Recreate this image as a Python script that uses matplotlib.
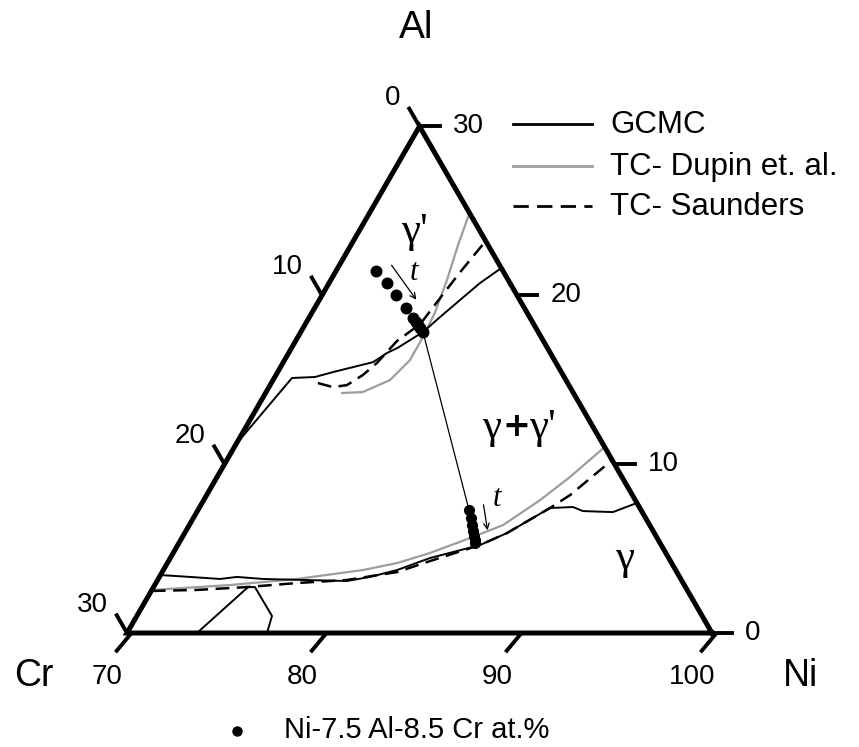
import numpy as np
import matplotlib
matplotlib.use("Agg")
import matplotlib.pyplot as plt

plt.rcParams["font.family"] = ["Liberation Sans", "DejaVu Sans"]

# ── 데이터 (Al at.%, Cr at.%) ────────────────────────────────────────────────
gcmc_up_al = [11.25, 15.10, 15.16, 15.45, 16.04, 16.58, 16.87, 17.82, 18.71, 19.72, 20.72, 21.61]
gcmc_up_cr = [18.73, 13.99, 12.78, 11.71, 9.36, 8.38, 7.71, 5.91, 4.59, 3.06, 1.54, 0.0]

gcmc_lo_al = [3.43, 3.32, 3.20, 3.32, 3.20, 3.14, 3.08, 3.32, 3.73, 4.44, 5.21, 5.92, 7.16, 7.40,
              7.46, 7.22, 7.16, 7.70]
gcmc_lo_cr = [26.54, 25.11, 23.63, 22.70, 21.43, 19.40, 17.18, 15.88, 14.28, 12.24, 9.29, 7.55,
              5.09, 4.61, 3.40, 3.01, 1.50, 0.0]

gcmc_box_al = [0.0, 2.72, 2.72, 1.01, 0.0]
gcmc_box_cr = [26.41, 22.43, 22.08, 22.06, 22.82]

dupin_up_al = [14.21, 14.27, 14.98, 16.16, 17.53, 18.95, 20.90, 22.97, 24.87]
dupin_up_cr = [11.86, 10.77, 9.02, 7.41, 6.06, 4.74, 3.14, 1.54, 0.0]

dupin_lo_al = [2.55, 2.84, 3.20, 3.73, 4.14, 4.74, 5.62, 6.39, 7.87, 9.24, 11.01]
dupin_lo_cr = [27.40, 23.30, 19.68, 16.03, 14.08, 12.09, 9.60, 7.52, 4.88, 2.66, 0.0]

saund_up_al = [14.80, 14.56, 14.68, 15.28, 15.99, 17.29, 18.29, 19.83, 21.37, 23.21]
saund_up_cr = [12.81, 12.16, 11.38, 10.26, 9.19, 7.51, 5.82, 4.03, 2.23, 0.0]

saund_lo_al = [2.49, 2.55, 2.72, 2.96, 3.14, 3.61, 4.26, 5.21, 5.92, 7.16, 7.40, 8.17, 10.24]
saund_lo_cr = [27.48, 25.14, 22.49, 19.80, 17.15, 14.34, 12.33, 9.29, 7.55, 5.09, 4.61, 3.19, 0.0]

# γ' 조성 (시간 순)
gp_al = [21.43, 20.72, 20.01, 19.24, 18.65, 18.41, 18.24, 18.06, 17.82]
gp_cr = [6.51, 6.31, 6.20, 6.07, 6.00, 5.97, 5.96, 5.94, 5.91]
# γ 조성 (시간 순)
g_al = [7.28, 6.81, 6.39, 6.04, 5.74, 5.51, 5.33]
g_cr = [8.82, 8.96, 9.11, 9.24, 9.34, 9.40, 9.49]

# 축 눈금
ni_ticks = [70, 80, 90, 100]
al_ticks = [0, 10, 20, 30]
cr_ticks = [0, 10, 20, 30]

SQ3 = np.sqrt(3) / 2


def tern(al, cr):
    """(Al, Cr) at.% -> 삼각형 평면 좌표 (Cr 꼭짓점 = 원점, Ni 꼭짓점 = (30, 0))."""
    al = np.asarray(al, dtype=float)
    cr = np.asarray(cr, dtype=float)
    return 30 - cr - al / 2, al * SQ3


W, H = 859, 747
fig = plt.figure(figsize=(W / 100, H / 100), dpi=100)
ax = fig.add_axes([0, 0, 1, 1])
PX = 19.5  # 1 at.% 당 픽셀
ax.set_xlim(-127 / PX, (W - 127) / PX)
ax.set_ylim((633 - H) / PX, 633 / PX)
ax.axis("off")


def ftext(px, py, s, **kw):
    """픽셀 위치 기준 figure 텍스트."""
    fig.text(px / W, 1 - py / H, s, **kw)


# ── 삼각형 틀 ────────────────────────────────────────────────────────────────
fx, fy = tern([0, 0, 30, 0], [0, 30, 0, 0])
ax.plot(fx, fy, color="black", lw=3.6, solid_joinstyle="miter", zorder=5)

TL = 1.05
TFS = 20
for ni in ni_ticks:
    x0, y0 = tern(0, 100 - ni)
    ax.plot([x0 + 0.15, x0 - 0.5 * TL], [y0 - 0.1, y0 - SQ3 * TL], color="black", lw=2.8, zorder=5)
    ax.text(x0 - 1.0, y0 - 2.27, f"{ni}", fontsize=TFS, ha="center", va="center")
for al in al_ticks:
    x0, y0 = tern(al, 0)
    ax.plot([x0, x0 + 1.05], [y0, y0], color="black", lw=2.8, zorder=5)
    ax.text(x0 + 1.7, y0, f"{al}", fontsize=TFS, ha="left", va="center")
for cr in cr_ticks:
    x0, y0 = tern(30 - cr, cr)
    ax.plot([x0, x0 - 0.5 * TL], [y0, y0 + SQ3 * TL], color="black", lw=2.8, zorder=5)
    ax.text(x0 - 0.5 * TL - 0.45, y0 + SQ3 * TL + 0.55, f"{cr}", fontsize=TFS, ha="right", va="center")

# 꼭짓점 원소
ftext(416, 28, "Al", fontsize=28, ha="center", va="center")
ftext(34, 676, "Cr", fontsize=27, ha="center", va="center")
ftext(801, 676, "Ni", fontsize=27, ha="center", va="center")

# ── 상경계 ──────────────────────────────────────────────────────────────────
DASH = (0, (5.5, 3))
GRAY = "#9d9d9d"
for al, cr in [(dupin_up_al, dupin_up_cr), (dupin_lo_al, dupin_lo_cr)]:
    ax.plot(*tern(al, cr), color=GRAY, lw=1.6, zorder=2)
for al, cr in [(saund_up_al, saund_up_cr), (saund_lo_al, saund_lo_cr)]:
    ax.plot(*tern(al, cr), color="black", lw=1.8, ls=DASH, zorder=3)
for al, cr in [(gcmc_up_al, gcmc_up_cr), (gcmc_lo_al, gcmc_lo_cr), (gcmc_box_al, gcmc_box_cr)]:
    ax.plot(*tern(al, cr), color="black", lw=1.4, zorder=3)

# 타이라인 + 조성 궤적
ax.plot(*tern([gp_al[-1], g_al[0]], [gp_cr[-1], g_cr[0]]), color="black", lw=0.9, zorder=3)
ax.plot(*tern(gp_al, gp_cr), "o", color="black", ms=7.6, zorder=6)
ax.plot(*tern(g_al, g_cr), "o", color="black", ms=7, zorder=6)

# 시간 화살표
arr_up = ([21.91, 19.60], [5.56, 5.28])
arr_lo = ([7.76, 5.92], [7.86, 8.53])
for al, cr in [arr_up, arr_lo]:
    xs, ys = tern(al, cr)
    ax.annotate("", xy=(xs[1], ys[1]), xytext=(xs[0], ys[0]),
                arrowprops=dict(arrowstyle="->", color="black", lw=0.9, mutation_scale=10))
ftext(414, 273, "t", fontsize=22, style="italic", family="Liberation Serif", ha="center", va="center")
ftext(497, 499, "t", fontsize=22, style="italic", family="Liberation Serif", ha="center", va="center")

# 상 라벨
SERIF = dict(fontsize=31, family="Liberation Serif", ha="center", va="center")
ftext(414, 232, "γ'", **SERIF)
ftext(492, 428, "γ", **SERIF)
ftext(516, 426, "+", fontsize=24, fontweight="bold", family="DejaVu Sans", ha="center", va="center")
ftext(542, 428, "γ'", **SERIF)
ftext(625, 559, "γ", **SERIF)

# ── 범례 ────────────────────────────────────────────────────────────────────
leg = [("GCMC", "black", "-", 124), ("TC- Dupin et. al.", GRAY, "-", 166), ("TC- Saunders", "black", DASH, 206)]
for lbl, c, ls, py in leg:
    yy = 1 - py / H
    fig.add_artist(plt.Line2D([513 / W, 592 / W], [yy, yy], color=c, ls=ls, lw=2.0))
    ftext(610, py + 1, lbl, fontsize=22.5, ha="left", va="center")

fig.add_artist(plt.Line2D([237 / W], [1 - 731 / H], marker="o", color="black", ms=6.5, ls="none"))
ftext(284, 730, "Ni-7.5 Al-8.5 Cr at.%", fontsize=21, ha="left", va="center")

fig.savefig("out.png", dpi=100)
